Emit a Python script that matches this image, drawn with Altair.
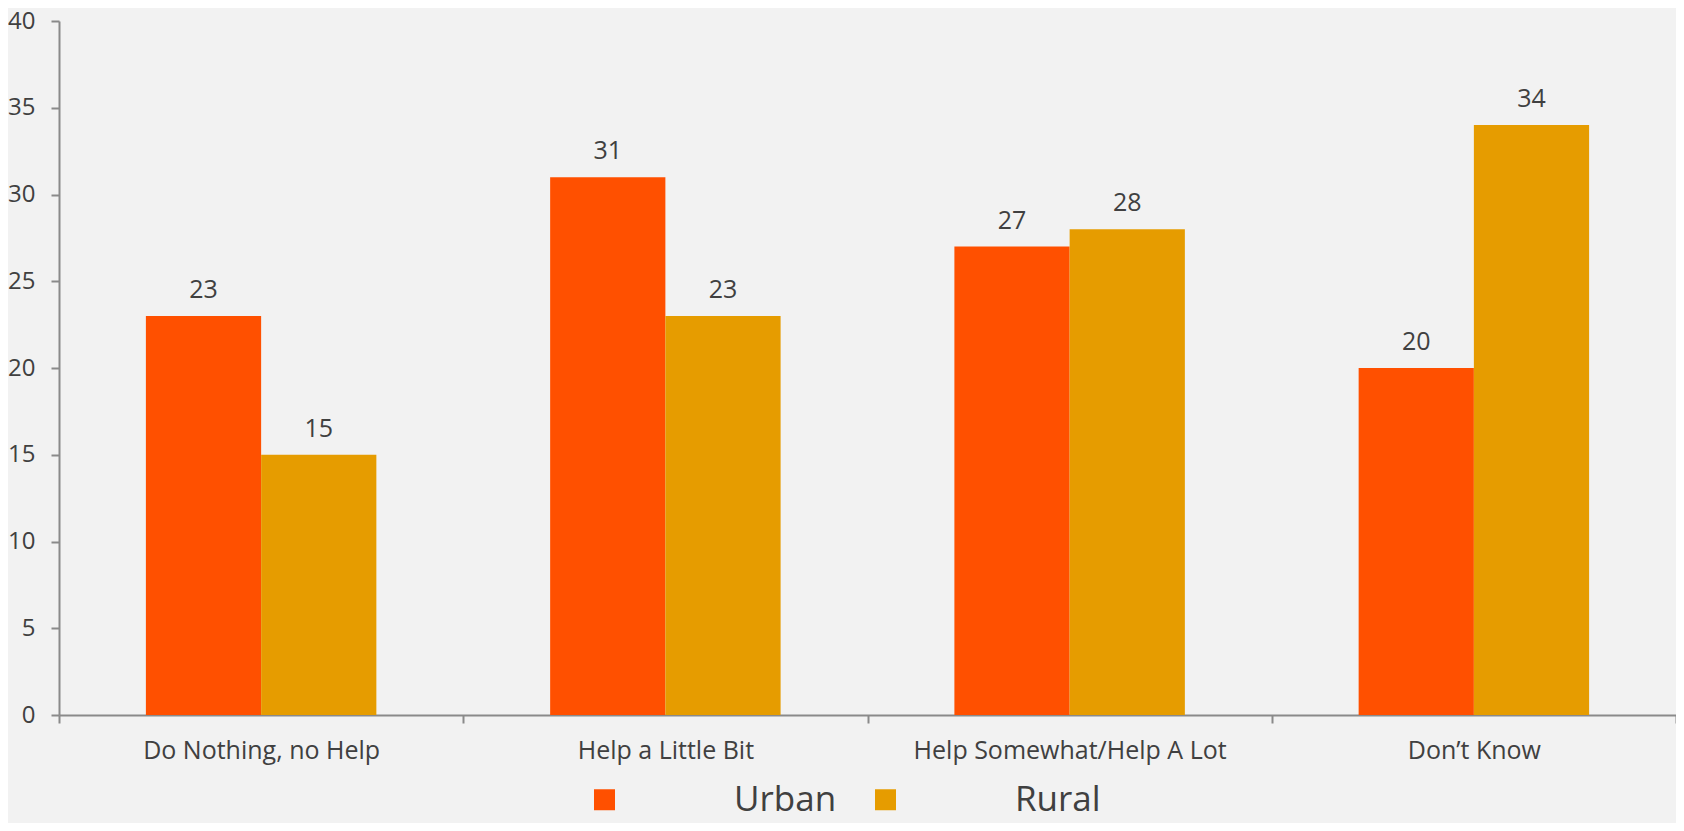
import altair as alt
import pandas as pd

categories = ["Do Nothing, no Help", "Help a Little Bit", "Help Somewhat/Help A Lot", "Don\u2019t Know"]
series = ["Urban", "Rural"]
urban = [23, 31, 27, 20]
rural = [15, 23, 28, 34]
y_ticks = [0, 5, 10, 15, 20, 25, 30, 35, 40]
colors = ["#FF5000", "#E69C00"]

rows = []
for c, u, r in zip(categories, urban, rural):
    rows.append({"category": c, "series": "Urban", "value": u})
    rows.append({"category": c, "series": "Rural", "value": r})
df = pd.DataFrame(rows)

FONT = "Open Sans"
TEXT = "#404040"
AXIS = "#8a8a8a"

x_enc = alt.X(
    "category:N",
    sort=categories,
    title=None,
    scale=alt.Scale(paddingInner=0, paddingOuter=0),
    axis=alt.Axis(
        labelAngle=0, labelFont=FONT, labelFontSize=25, labelColor=TEXT,
        labelPadding=15, tickSize=8, tickColor=AXIS, tickWidth=2, labelLimit=500,
        domainColor=AXIS, domainWidth=2, tickBand="extent", grid=False,
    ),
)
xoff = alt.XOffset("series:N", sort=series, scale=alt.Scale(paddingInner=0, paddingOuter=0.754))
y_enc = alt.Y(
    "value:Q",
    title=None,
    scale=alt.Scale(domain=[0, 40], nice=False, zero=True),
    axis=alt.Axis(
        values=y_ticks, labelFont=FONT, labelFontSize=24, labelColor=TEXT,
        labelPadding=16, tickSize=8, tickColor=AXIS, tickWidth=2,
        domainColor=AXIS, domainWidth=2, grid=False,
    ),
)
color_enc = alt.Color(
    "series:N",
    sort=series,
    scale=alt.Scale(domain=series, range=colors),
    legend=alt.Legend(
        title=None, orient="none", direction="horizontal",
        legendX=528, legendY=761, symbolType="square", symbolSize=441,
        symbolStrokeWidth=0, labelFont=FONT, labelFontSize=35, labelColor=TEXT,
        labelOffset=112, columnPadding=31, labelLimit=400, padding=0,
    ),
)

bars = alt.Chart(df).mark_bar().encode(x=x_enc, xOffset=xoff, y=y_enc, color=color_enc)
labels = alt.Chart(df).mark_text(
    baseline="alphabetic", dy=-18, font=FONT, fontSize=25, color=TEXT
).encode(x=x_enc, xOffset=xoff, y=y_enc, text="value:Q")

chart = (
    alt.layer(bars, labels)
    .properties(
        width=1617, height=694,
        autosize=alt.AutoSizeParams(type="none"),
        padding={"left": 51, "top": 13, "right": 0, "bottom": 108},
        background="#f2f2f2",
    )
    .configure_view(stroke=None)
)

chart.save("out.html", embed_options={"renderer": "svg", "actions": False})
